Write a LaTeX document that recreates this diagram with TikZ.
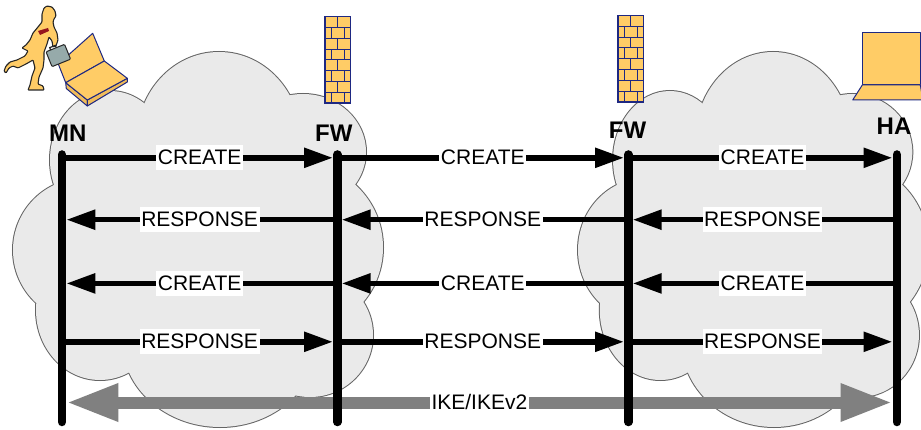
\documentclass[tikz,border=0pt]{standalone}
\usepackage{fontspec}
\setmainfont{Liberation Sans}
\usetikzlibrary{arrows.meta}

\definecolor{cloudfill}{RGB}{234,234,234}
\definecolor{cloudline}{RGB}{100,100,100}
\definecolor{iconfill}{RGB}{255,204,102}
\definecolor{iconside}{RGB}{240,188,90}
\definecolor{iconline}{RGB}{30,40,130}
\definecolor{ikegray}{RGB}{128,128,128}
\definecolor{casefill}{RGB}{150,170,170}
\definecolor{tiered}{RGB}{150,20,30}

\tikzset{
  lifeline/.style={line width=8.5pt, line cap=round},
  msg/.style={line width=5.5pt, -{Triangle[length=29pt,width=19pt]}, shorten >=4.3pt},
  msglabel/.style={fill=white, inner xsep=1.5pt, inner ysep=0pt, text height=19pt,
    text depth=5.7pt, font=\fontsize{21}{24}\selectfont},
  entity/.style={font=\fontsize{24}{28}\selectfont\bfseries, anchor=base, inner sep=0pt},
  ike/.style={line width=12pt, draw=ikegray,
    {Triangle[length=52pt,width=35pt]}-{Triangle[length=52pt,width=35pt]},
    shorten <=4.3pt, shorten >=4.3pt},
  brick/.style={draw=iconline, line width=1pt},
  iconpart/.style={fill=iconfill, draw=iconline, line width=1pt, line join=round},
}

% bumps of a cloud: centre x / centre y / x radius / y radius
\def\cloudbumps{110/160/60/69, 219/140/82/88, 303/152/63/58, 298/247.5/85/85,
  310/335/63/62, 220/340/98/87, 100/310/64/70, 85/250/72/72}
% #1 horizontal offset, #2 horizontal scale
\newcommand\drawcloud[2]{%
  \foreach \cx/\cy/\rx/\ry in \cloudbumps
    \draw[cloudline, line width=2pt] ({#1+#2*\cx},\cy)
      ellipse [x radius={#2*\rx*1pt}, y radius={\ry*1pt}];
  \foreach \cx/\cy/\rx/\ry in \cloudbumps
    \fill[cloudfill] ({#1+#2*\cx},\cy)
      ellipse [x radius={#2*\rx*1pt}, y radius={\ry*1pt}];
  \fill[cloudfill] ({#1+#2*200},240) ellipse [x radius={#2*150pt}, y radius=130pt];
}

% brick wall with its top-left corner at (#1,#2)
\newcommand\brickwall[2]{%
  \begin{scope}[shift={(#1,#2)}]
    \fill[iconfill] (0,0) rectangle (25.5,86.5);
    \foreach \r in {1,...,7}
      \draw[brick] (0,\r*10.8125) -- (25.5,\r*10.8125);
    \foreach \r in {0,2,4,6}
      \draw[brick] (12.75,\r*10.8125) -- ++(0,10.8125);
    \foreach \r in {1,3,5,7} {
      \draw[brick] (6.5,\r*10.8125) -- ++(0,10.8125);
      \draw[brick] (19,\r*10.8125) -- ++(0,10.8125);
    }
    \draw[brick, line width=1.5pt] (0,0) rectangle (25.5,86.5);
  \end{scope}}

\begin{document}
\begin{tikzpicture}[x=1pt, y=-1pt]
  \useasboundingbox (0,0) rectangle (921,430);
  \clip (0,0) rectangle (921,430);
  \fill[white] (0,0) rectangle (921,430);

  % networks
  \drawcloud{0}{1}
  \drawcloud{565.7}{0.947}

  % mobile node: laptop
  \draw[iconpart] (58.3,64) -- (92.7,33.3) -- (104.3,61) -- (65.7,82.7) -- cycle;
  \draw[iconpart, fill=iconside] (65.7,82.7) -- (87.3,100) -- (87.3,106) -- (66.3,88.5) -- cycle;
  \draw[iconpart, fill=iconside] (87.3,100) -- (127.3,78.3) -- (127.3,82) -- (87.3,106) -- cycle;
  \draw[iconpart] (65.7,82.7) -- (104.3,61) -- (127.3,78.3) -- (87.3,100) -- cycle;

  % mobile node: running user
  \draw[fill=iconfill, draw=black!85, line width=1.1pt, rounded corners=0.8pt]
    (47,6) -- (52,7) -- (55,11) -- (56,16) -- (54,19) -- (53,22) -- (54,27)
    -- (57,33) -- (58,40) -- (56,46) -- (53,47) -- (52,41) -- (49,37) -- (47,44)
    -- (44,52) -- (44,60) -- (43,68) -- (39,77) -- (38,84) -- (43,86) -- (44,90)
    -- (28,90) -- (30,85) -- (32,76) -- (35,68) -- (33,60) -- (26,64) -- (18,68)
    -- (13,66) -- (9,68) -- (6,73) -- (4,71) -- (6,66) -- (10,62) -- (17,60)
    -- (25,56) -- (28,51) -- (22,48) -- (26,45) -- (30,40) -- (33,33) -- (38,27)
    -- (42,22) -- (42,14) -- (44,8) -- cycle;
  \fill[tiered] (38,31) -- (48,28) -- (49,31) -- (40,35) -- cycle;
  \begin{scope}[shift={(58.3,55.5)}, rotate=22]
    \draw[fill=casefill, draw=black!85, line width=1pt, rounded corners=1pt]
      (-10,-8) rectangle (10,8);
    \draw[draw=black!85, line width=1.2pt] (-5,-8) -- (-5,-10.5) -- (1,-10.5) -- (1,-8);
  \end{scope}

  % firewalls
  \brickwall{325}{16.7}
  \brickwall{618}{15.5}

  % home agent: laptop
  \draw[iconpart] (862.3,32.7) rectangle (920.3,85);
  \draw[iconpart] (862.3,85) -- (920.3,85) -- (923,100) -- (852.7,100) -- cycle;

  % lifeline anchors
  \foreach \n/\x in {mn/62, fwa/337.3, fwb/628.3, ha/896.8} {
    \coordinate (\n-top) at (\x,154.5);
    \coordinate (\n-bot) at (\x,422);
    \coordinate (\n-r1) at (\x,157.8);
    \coordinate (\n-r2) at (\x,219.7);
    \coordinate (\n-r3) at (\x,283.4);
    \coordinate (\n-r4) at (\x,341.8);
    \coordinate (\n-ike) at (\x,402.5);
  }

  % IKE exchange
  \draw[ike] (mn-ike) -- node[msglabel] (ikelbl) {IKE/IKEv2} (ha-ike);

  % lifelines
  \foreach \n in {mn, fwa, fwb, ha}
    \draw[lifeline] (\n-top) -- (\n-bot);

  % signalling messages
  \draw[msg] (mn-r1) -- node[msglabel] (c1a) {CREATE} (fwa-r1);
  \draw[msg] (fwa-r1) -- node[msglabel] (c1b) {CREATE} (fwb-r1);
  \draw[msg] (fwb-r1) -- node[msglabel] (c1c) {CREATE} (ha-r1);

  \draw[msg] (ha-r2) -- node[msglabel] (r2c) {RESPONSE} (fwb-r2);
  \draw[msg] (fwb-r2) -- node[msglabel] (r2b) {RESPONSE} (fwa-r2);
  \draw[msg] (fwa-r2) -- node[msglabel] (r2a) {RESPONSE} (mn-r2);

  \draw[msg] (ha-r3) -- node[msglabel] (c3c) {CREATE} (fwb-r3);
  \draw[msg] (fwb-r3) -- node[msglabel] (c3b) {CREATE} (fwa-r3);
  \draw[msg] (fwa-r3) -- node[msglabel] (c3a) {CREATE} (mn-r3);

  \draw[msg] (mn-r4) -- node[msglabel] (r4a) {RESPONSE} (fwa-r4);
  \draw[msg] (fwa-r4) -- node[msglabel] (r4b) {RESPONSE} (fwb-r4);
  \draw[msg] (fwb-r4) -- node[msglabel] (r4c) {RESPONSE} (ha-r4);

  % entity names
  \node[entity] (mn) at (67.7,141.7) {MN};
  \node[entity] (fwa) at (333.8,141.7) {FW};
  \node[entity] (fwb) at (627.5,139) {FW};
  \node[entity] (ha) at (894,135) {HA};
\end{tikzpicture}
\end{document}
